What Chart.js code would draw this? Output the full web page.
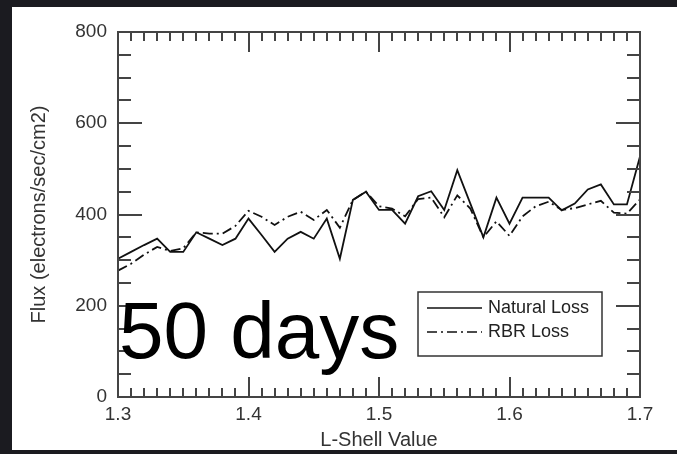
<!DOCTYPE html>
<html>
<head>
<meta charset="utf-8">
<script src="https://cdn.jsdelivr.net/npm/chart.js@4"></script>
<style>
  html, body { margin: 0; padding: 0; background: #1b1b20; width: 677px; height: 454px; overflow: hidden; }
  #wrap { position: absolute; left: 12px; top: 7px; width: 665px; height: 443px; background: #ffffff; }
  canvas { display: block; }
</style>
</head>
<body>
<div id="wrap"><canvas id="c" width="665" height="443"></canvas></div>
<script>
const lShell = [1.30, 1.31, 1.32, 1.33, 1.34, 1.35, 1.36, 1.37, 1.38, 1.39,
                1.40, 1.41, 1.42, 1.43, 1.44, 1.45, 1.46, 1.47, 1.48, 1.49,
                1.50, 1.51, 1.52, 1.53, 1.54, 1.55, 1.56, 1.57, 1.58, 1.59,
                1.60, 1.61, 1.62, 1.63, 1.64, 1.65, 1.66, 1.67, 1.68, 1.69, 1.70];
const naturalLoss = [303, 318, 333, 347, 318, 318, 361, 347, 333, 347,
                     391, 355, 318, 347, 362, 347, 391, 303, 432, 450,
                     410, 410, 380, 440, 451, 410, 497, 424, 350, 437,
                     380, 437, 437, 437, 409, 424, 455, 466, 422, 422, 527];
const rbrLoss = [277, 292, 312, 329, 320, 326, 361, 358, 358, 375,
                 408, 395, 377, 395, 406, 388, 410, 371, 432, 450,
                 418, 413, 396, 434, 437, 394, 442, 413, 350, 385,
                 353, 396, 418, 428, 410, 414, 422, 430, 404, 402, 433];
const seriesNames = ["Natural Loss", "RBR Loss"];
const xTickValues = [1.3, 1.4, 1.5, 1.6, 1.7];
const yTickValues = [0, 200, 400, 600, 800];
const annotationText = "50 days";

const FONT = "'Liberation Sans', Arial, Helvetica, sans-serif";
const AXIS = "#444444";

const frameTicks = {
  id: 'frameTicks',
  afterDatasetsDraw(chart) {
    const ctx = chart.ctx, a = chart.chartArea;
    const xs = chart.scales.x, ys = chart.scales.y;
    ctx.save();
    ctx.strokeStyle = AXIS;
    ctx.lineWidth = 2;
    ctx.beginPath();
    // x ticks every 0.01 (top and bottom), inward
    for (let i = 0; i <= 40; i++) {
      const v = 1.3 + i * 0.01;
      const px = Math.round(xs.getPixelForValue(v));
      const len = (i % 10 === 0) ? 20 : 9;
      ctx.moveTo(px, a.bottom); ctx.lineTo(px, a.bottom - len);
      ctx.moveTo(px, a.top); ctx.lineTo(px, a.top + len);
    }
    // y ticks every 50 (left and right), inward
    for (let i = 0; i <= 16; i++) {
      const v = i * 50;
      const py = Math.round(ys.getPixelForValue(v));
      const len = (i % 4 === 0) ? 24 : 13;
      ctx.moveTo(a.left, py); ctx.lineTo(a.left + len, py);
      ctx.moveTo(a.right, py); ctx.lineTo(a.right - len, py);
    }
    ctx.stroke();
    ctx.strokeRect(a.left, a.top, a.right - a.left, a.bottom - a.top);
    ctx.restore();
  },
  afterDraw(chart) {
    const ctx = chart.ctx;
    ctx.save();
    // legend box
    const lx = 406, ly = 285, lw = 184, lh = 64;
    ctx.strokeStyle = "#333333";
    ctx.lineWidth = 1.5;
    ctx.strokeRect(lx, ly, lw, lh);
    const ds = chart.data.datasets;
    const rows = [ly + 16, ly + 40];
    for (let k = 0; k < ds.length; k++) {
      ctx.strokeStyle = ds[k].borderColor;
      ctx.lineWidth = 1.6;
      ctx.setLineDash(ds[k].borderDash || []);
      ctx.beginPath();
      ctx.moveTo(lx + 9, rows[k]); ctx.lineTo(lx + 64, rows[k]);
      ctx.stroke();
      ctx.setLineDash([]);
      ctx.fillStyle = "#222222";
      ctx.font = "18px " + FONT;
      ctx.textBaseline = "middle";
      ctx.textAlign = "left";
      ctx.fillText(ds[k].label, lx + 70, rows[k]);
    }
    // big annotation
    ctx.fillStyle = "#000000";
    ctx.font = "80px " + FONT;
    ctx.textBaseline = "alphabetic";
    ctx.textAlign = "left";
    ctx.fillText(annotationText, 107, 351);
    ctx.restore();
  }
};

new Chart(document.getElementById('c'), {
  type: 'line',
  data: {
    labels: lShell,
    datasets: [
      {
        label: seriesNames[0],
        data: lShell.map((x, i) => ({ x: x, y: naturalLoss[i] })),
        borderColor: "#111111",
        borderWidth: 1.8,
        pointRadius: 0,
        tension: 0,
        fill: false
      },
      {
        label: seriesNames[1],
        data: lShell.map((x, i) => ({ x: x, y: rbrLoss[i] })),
        borderColor: "#111111",
        borderWidth: 1.8,
        borderDash: [10, 4, 2, 4],
        pointRadius: 0,
        tension: 0,
        fill: false
      }
    ]
  },
  options: {
    responsive: false,
    animation: false,
    events: [],
    layout: { padding: { left: 0, top: 25, right: 37, bottom: 0 } },
    plugins: { legend: { display: false }, tooltip: { enabled: false } },
    scales: {
      x: {
        type: 'linear',
        min: 1.3, max: 1.7,
        afterBuildTicks: (s) => { s.ticks = xTickValues.map(v => ({ value: v })); },
        afterFit: (s) => { s.height = 53; },
        grid: { display: false, drawTicks: false },
        border: { display: false },
        ticks: {
          padding: 6,
          color: "#333333",
          font: { family: FONT, size: 19 },
          callback: (v) => Number(v).toFixed(1),
          maxRotation: 0
        },
        title: {
          display: true,
          text: "L-Shell Value",
          color: "#333333",
          font: { family: FONT, size: 20, lineHeight: 1 },
          padding: { top: 0, bottom: 0 }
        }
      },
      y: {
        min: 0, max: 800,
        afterBuildTicks: (s) => { s.ticks = yTickValues.map(v => ({ value: v })); },
        afterFit: (s) => { s.width = 106; },
        grid: { display: false, drawTicks: false },
        border: { display: false },
        ticks: {
          padding: 11,
          color: "#333333",
          font: { family: FONT, size: 19 }
        },
        title: {
          display: true,
          text: "Flux (electrons/sec/cm2)",
          color: "#333333",
          font: { family: FONT, size: 20, lineHeight: 1 },
          padding: { top: 17, bottom: 0 }
        }
      }
    }
  },
  plugins: [frameTicks]
});
</script>
</body>
</html>
